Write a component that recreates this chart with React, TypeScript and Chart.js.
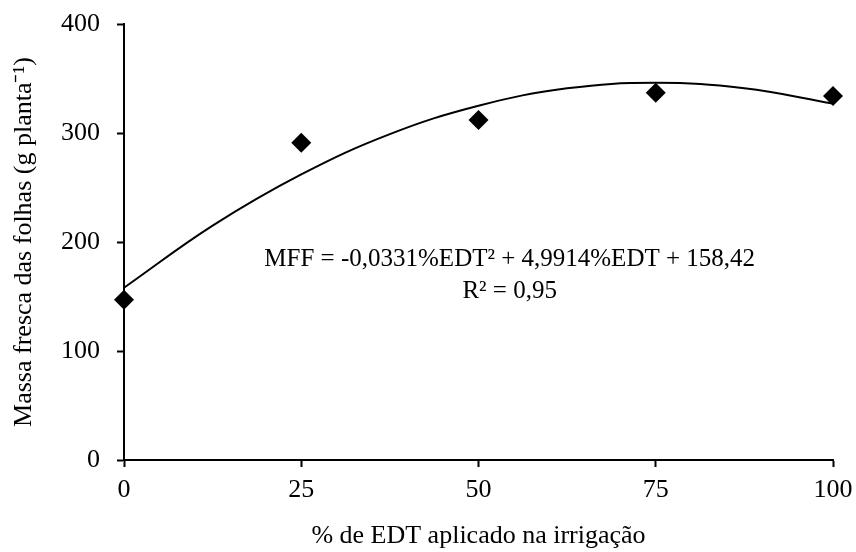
import React, { useEffect, useRef } from "react";
import { Chart, registerables } from "chart.js";

Chart.register(...registerables);

const FONT = "'Liberation Serif', 'Times New Roman', serif";

const edtPercent = [0, 25, 50, 75, 100];
const leafMass = [147, 291, 312, 337, 334];

const trendX = [0, 12.5, 25, 37.5, 50, 62.5, 75, 87.5, 100];
const trendY = [158, 215, 262, 299, 325, 341, 346, 341, 327];

const xTicks = [0, 25, 50, 75, 100];
const yTicks = [0, 100, 200, 300, 400];

const xTitle = "% de EDT aplicado na irrigação";
const yTitle = "Massa fresca das folhas (g planta⁻¹)";
const equationLines = ["MFF = -0,0331%EDT² + 4,9914%EDT + 158,42", "R² = 0,95"];

const equationPlugin = {
  id: "equation",
  afterDraw(chart: any) {
    const { ctx, chartArea } = chart;
    ctx.save();
    ctx.fillStyle = "#000";
    ctx.font = `25px ${FONT}`;
    ctx.textAlign = "center";
    ctx.textBaseline = "alphabetic";
    const cx = chartArea.left + (chartArea.right - chartArea.left) * 0.544;
    const baseY = chartArea.top + 242;
    equationLines.forEach((line, i) => {
      ctx.fillText(line, cx, baseY + i * 32);
    });
    ctx.restore();
  },
};

export default function App() {
  const canvasRef = useRef<HTMLCanvasElement>(null);

  useEffect(() => {
    const canvas = canvasRef.current;
    if (!canvas) return;
    const chart = new Chart(canvas, {
      type: "scatter",
      data: {
        datasets: [
          {
            label: "trend",
            data: trendX.map((x, i) => ({ x, y: trendY[i] })),
            showLine: true,
            borderColor: "#000",
            borderWidth: 2,
            pointRadius: 0,
            tension: 0.4,
            fill: false,
            clip: false,
          },
          {
            label: "MFF",
            data: edtPercent.map((x, i) => ({ x, y: leafMass[i] })),
            pointStyle: "rectRot",
            pointRadius: 10,
            pointBackgroundColor: "#000",
            pointBorderColor: "#000",
            borderWidth: 0,
            showLine: false,
            clip: false,
          },
        ],
      },
      options: {
        animation: false,
        responsive: false,
        maintainAspectRatio: false,
        layout: { padding: { left: 0, right: 23, top: 24, bottom: 0 } },
        plugins: {
          legend: { display: false },
          tooltip: { enabled: false },
        },
        scales: {
          x: {
            type: "linear",
            min: 0,
            max: 100,
            afterBuildTicks: (s: any) => {
              s.ticks = xTicks.map((v) => ({ value: v }));
            },
            afterFit: (s: any) => {
              s.height = 92;
              s.paddingLeft = 0;
              s.paddingRight = 0;
            },
            grid: {
              drawOnChartArea: false,
              drawTicks: true,
              tickLength: 7,
              tickWidth: 2,
              tickColor: "#000",
            },
            border: { display: true, color: "#000", width: 2 },
            ticks: {
              color: "#000",
              font: { family: FONT, size: 26 },
              padding: 8,
              maxRotation: 0,
            },
            title: {
              display: true,
              text: xTitle,
              color: "#000",
              font: { family: FONT, size: 26 },
              padding: { top: 0, bottom: 0 },
            },
          },
          y: {
            type: "linear",
            min: 0,
            max: 400,
            afterBuildTicks: (s: any) => {
              s.ticks = yTicks.map((v) => ({ value: v }));
            },
            afterFit: (s: any) => {
              s.width = 124;
              s.paddingTop = 0;
              s.paddingBottom = 0;
            },
            grid: {
              drawOnChartArea: false,
              drawTicks: true,
              tickLength: 7,
              tickWidth: 2,
              tickColor: "#000",
            },
            border: { display: true, color: "#000", width: 2 },
            ticks: {
              color: "#000",
              font: { family: FONT, size: 26 },
              padding: 17,
            },
            title: {
              display: true,
              text: yTitle,
              color: "#000",
              font: { family: FONT, size: 26 },
              padding: { top: 9, bottom: 0 },
            },
          },
        },
      },
      plugins: [equationPlugin],
    });
    return () => chart.destroy();
  }, []);

  return (
    <div style={{ position: "fixed", left: 0, top: 0, width: 856, height: 552, background: "#fff" }}>
      <canvas ref={canvasRef} width={856} height={552} style={{ width: 856, height: 552 }} />
    </div>
  );
}
